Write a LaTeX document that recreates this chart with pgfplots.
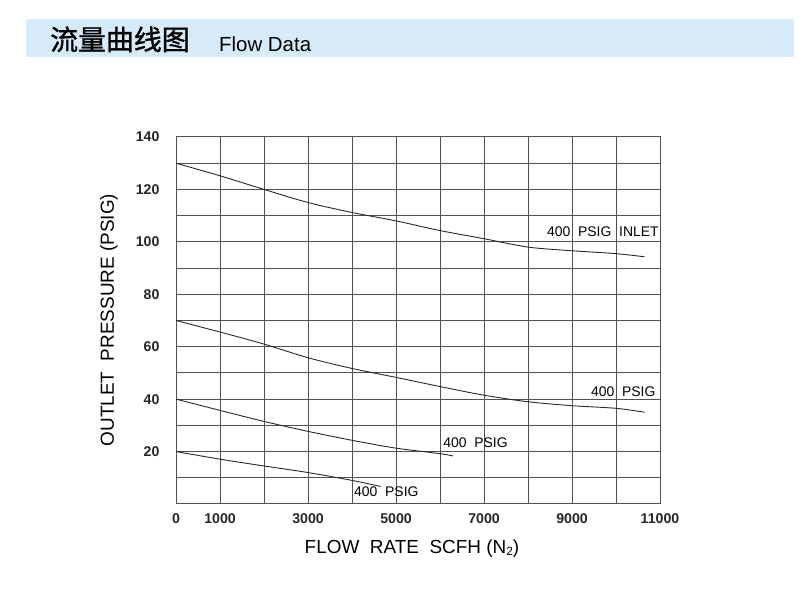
\documentclass[border=0pt]{standalone}
\usepackage{fontspec}
\setmainfont{Liberation Sans}
\newfontfamily\cjk{Noto Sans CJK SC}[FakeBold=1.2]
\usepackage{pgfplots}
\pgfplotsset{compat=1.18}
\definecolor{banner}{RGB}{214,234,248}
\definecolor{gridc}{RGB}{80,80,80}
\definecolor{curvec}{RGB}{40,40,40}
\begin{document}
\begin{tikzpicture}[x=1bp,y=1bp]
\path[use as bounding box] (0,0) rectangle (799,589);
\fill[banner] (26,532) rectangle (794,570);
\node[anchor=base west, inner sep=0, font=\cjk\fontsize{28}{30}\selectfont] at (50,539) {流量曲线图};
\node[anchor=base west, inner sep=0, font=\fontsize{20.5}{24}\selectfont] at (219,537) {Flow Data};
\node[rotate=90, inner sep=0, font=\fontsize{19}{21}\selectfont] at (109,269) {OUTLET\ \ PRESSURE (PSIG)};
\node[inner sep=0, font=\fontsize{19}{21}\selectfont] at (412,40) {FLOW\ \ RATE\ \ SCFH (N{\fontsize{12}{13}\selectfont\raisebox{-2bp}{2}})};
\begin{axis}[
  at={(176bp,85bp)}, anchor=south west,
  scale only axis, width=484bp, height=367bp,
  xmin=0, xmax=11000, ymin=0, ymax=140,
  scaled x ticks=false, scaled y ticks=false,
  xtick={0,1000,...,11000},
  xticklabels={0,1000,,3000,,5000,,7000,,9000,,11000},
  ytick={0,10,...,140},
  yticklabels={,,20,,40,,60,,80,,100,,120,,140},
  grid=major,
  major grid style={gridc, line width=1bp},
  axis line style={gridc, line width=1bp},
  major tick length=0pt,
  tick label style={font=\bfseries\fontsize{14.2}{16}\selectfont, text=black!85},
  yticklabel style={xshift=-13bp},
  xticklabel style={yshift=-6bp},
]
\addplot[curvec, line width=0.9bp, smooth] coordinates {
(0,130)(1000,125.2)(2000,120)(3000,115)(4000,111.2)(5000,108)(6000,104.3)(7000,101.2)(8000,98)(9000,96.6)(10000,95.5)(10650,94.3)};
\addplot[curvec, line width=0.9bp, smooth] coordinates {
(0,70)(1000,65.6)(2000,61)(3000,55.8)(4000,51.7)(5000,48.3)(6000,44.8)(7000,41.5)(8000,39)(9000,37.5)(10000,36.5)(10650,35)};
\addplot[curvec, line width=0.9bp, smooth] coordinates {
(0,40)(1000,35.7)(2000,31.5)(3000,27.7)(4000,24.3)(5000,21.3)(6000,19.2)(6300,18.3)};
\addplot[curvec, line width=0.9bp, smooth] coordinates {
(0,20)(1000,17.1)(2000,14.5)(3000,12)(4000,9)(4650,6.7)};
\node[anchor=west, inner sep=0, font=\fontsize{14}{16}\selectfont] at (axis cs:8430,104) {400\ \ PSIG\ \ INLET};
\node[anchor=west, inner sep=0, font=\fontsize{14}{16}\selectfont] at (axis cs:9430,42.7) {400\ \ PSIG};
\node[anchor=west, inner sep=0, font=\fontsize{14}{16}\selectfont] at (axis cs:6070,23.2) {400\ \ PSIG};
\node[anchor=west, inner sep=0, font=\fontsize{14}{16}\selectfont] at (axis cs:4045,4.6) {400\ \ PSIG};
\end{axis}
\end{tikzpicture}
\end{document}
